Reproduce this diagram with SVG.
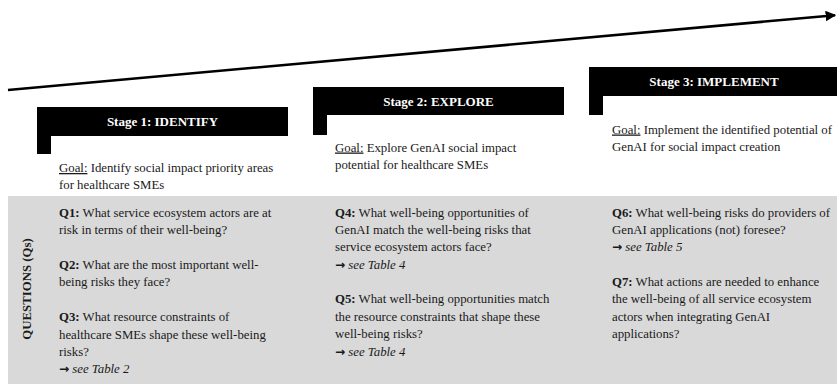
<svg xmlns="http://www.w3.org/2000/svg" width="837" height="386" viewBox="0 0 837 386">
  <defs>
    <style>
      .t { font-family: "Liberation Serif", "Times New Roman", serif; font-size: 12.8px; fill: #1a1a1a; }
      .b { font-weight: bold; }
      .i { font-style: italic; }
      .u { text-decoration: underline; }
      .arr { font-family: "DejaVu Sans", sans-serif; font-weight: bold; font-size: 12px; }
      .title { font-family: "Liberation Serif", "Times New Roman", serif; font-size: 13px; font-weight: bold; fill: #ffffff; text-anchor: middle; }
      .bar { fill: #000000; }
    </style>
    <marker id="arrowHead" viewBox="0 0 10 10" refX="9" refY="5" markerWidth="4" markerHeight="4" orient="auto" markerUnits="strokeWidth">
      <path d="M0,0 L10,5 L0,10 z" fill="#000"/>
    </marker>
  </defs>

  <rect width="837" height="386" fill="#ffffff"/>

  <!-- progression arrow -->
  <g id="connectors">
    <line x1="8" y1="90" x2="835" y2="15.2" stroke="#000" stroke-width="2.6" marker-end="url(#arrowHead)"/>
  </g>

  <!-- questions band -->
  <g id="questions-band">
    <rect x="8" y="196" width="829" height="188" fill="#d9d9d9"/>
    <text class="t b" font-size="11" transform="translate(31,289) rotate(-90)" text-anchor="middle">QUESTIONS (Qs)</text>
  </g>

  <!-- Stage 1 -->
  <g id="stage1">
    <path class="bar" d="M37,107 H288 V136 H51 V154 H37 Z"/>
    <text class="title" x="162.5" y="126">Stage 1: IDENTIFY</text>
    <text class="t" x="59" y="172"><tspan class="u">Goal:</tspan> Identify social impact priority areas</text>
    <text class="t" x="59" y="189">for healthcare SMEs</text>
    <text class="t" x="59" y="216.5"><tspan class="b">Q1:</tspan> What service ecosystem actors are at</text>
    <text class="t" x="59" y="234">risk in terms of their well-being?</text>
    <text class="t" x="59" y="268.5"><tspan class="b">Q2:</tspan> What are the most important well-</text>
    <text class="t" x="59" y="286">being risks they face?</text>
    <text class="t" x="59" y="321"><tspan class="b">Q3:</tspan> What resource constraints of</text>
    <text class="t" x="59" y="338.5">healthcare SMEs  shape these well-being</text>
    <text class="t" x="59" y="356">risks?</text>
    <text class="t" x="59" y="373"><tspan class="arr">→</tspan> <tspan class="i">see Table 2</tspan></text>
  </g>

  <!-- Stage 2 -->
  <g id="stage2">
    <path class="bar" d="M313,87 H564 V115 H327 V135 H313 Z"/>
    <text class="title" x="438.5" y="105.5">Stage 2: EXPLORE</text>
    <text class="t" x="335" y="151.5"><tspan class="u">Goal:</tspan> Explore GenAI social impact</text>
    <text class="t" x="335" y="168.5">potential for healthcare SMEs</text>
    <text class="t" x="335" y="216.5"><tspan class="b">Q4:</tspan> What well-being opportunities of</text>
    <text class="t" x="335" y="234">GenAI match the well-being risks that</text>
    <text class="t" x="335" y="251">service ecosystem actors face?</text>
    <text class="t" x="335" y="268.5"><tspan class="arr">→</tspan> <tspan class="i">see Table 4</tspan></text>
    <text class="t" x="335" y="303"><tspan class="b">Q5:</tspan> What well-being opportunities match</text>
    <text class="t" x="335" y="320.5">the resource constraints that shape these</text>
    <text class="t" x="335" y="338">well-being risks?</text>
    <text class="t" x="335" y="355.5"><tspan class="arr">→</tspan> <tspan class="i">see Table 4</tspan></text>
  </g>

  <!-- Stage 3 -->
  <g id="stage3">
    <path class="bar" d="M589,67 H837 V96 H603 V115 H589 Z"/>
    <text class="title" x="714" y="86">Stage 3: IMPLEMENT</text>
    <text class="t" x="612" y="133.5"><tspan class="u">Goal:</tspan> Implement the identified potential of</text>
    <text class="t" x="612" y="150.5">GenAI for social impact creation</text>
    <text class="t" x="612" y="216.5"><tspan class="b">Q6:</tspan> What well-being risks do providers of</text>
    <text class="t" x="612" y="234">GenAI applications (not) foresee?</text>
    <text class="t" x="612" y="251"><tspan class="arr">→</tspan> <tspan class="i">see Table 5</tspan></text>
    <text class="t" x="612" y="285.5"><tspan class="b">Q7:</tspan> What actions are needed to enhance</text>
    <text class="t" x="612" y="303">the well-being of all service ecosystem</text>
    <text class="t" x="612" y="320.5">actors when integrating GenAI</text>
    <text class="t" x="612" y="338">applications?</text>
  </g>
</svg>
